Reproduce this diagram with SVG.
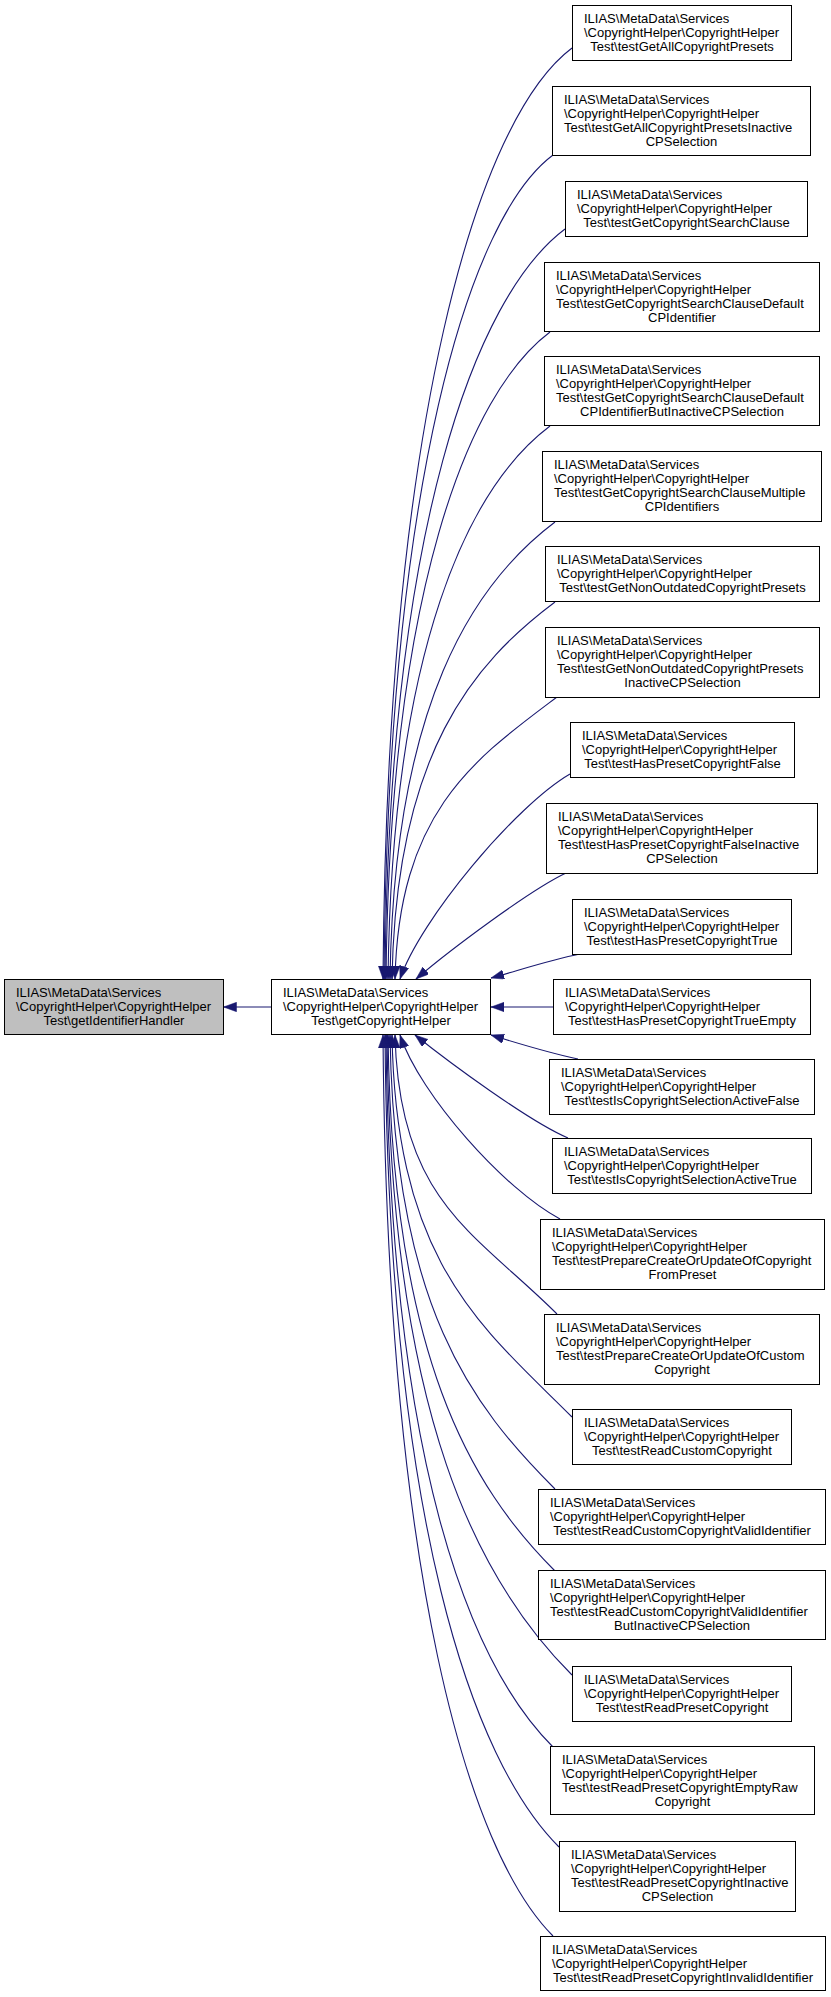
<svg xmlns="http://www.w3.org/2000/svg" width="831" height="1997" viewBox="0 0 831 1997">
<style>
.node rect{fill:#ffffff;stroke:#000000;stroke-width:1}
.node.hl rect{fill:#bfbfbf}
text{font-family:"Liberation Sans",Arial,Helvetica,sans-serif;font-size:13px;fill:#000000}
text.c{text-anchor:middle}
.edges path{fill:none;stroke:#191970;stroke-width:1.1}
</style>
<defs>
<marker id="ah" markerUnits="userSpaceOnUse" markerWidth="14" markerHeight="10" refX="13" refY="4.7" orient="auto">
<path d="M0,0 L13,4.7 L0,9.4 Z" fill="#191970" stroke="#191970" stroke-width="0.5"/>
</marker>
</defs>
<rect x="0" y="0" width="831" height="1997" fill="#ffffff"/>
<g class="edges">
<path d="M271.5,1007 L223.5,1007" marker-end="url(#ah)"/>
<path d="M572,48 C477.5,119 387,420 383,979" marker-end="url(#ah)"/>
<path d="M553,155 C468.5,218 388,485 384,979" marker-end="url(#ah)"/>
<path d="M565,229 C475,296.5 389,529 385,979" marker-end="url(#ah)"/>
<path d="M550,332 C468,393.5 390,591 386,979" marker-end="url(#ah)"/>
<path d="M550,426 C469,487 392,647 388,979" marker-end="url(#ah)"/>
<path d="M555,522 C472.5,584 394,705 390,979" marker-end="url(#ah)"/>
<path d="M555,602 C473.5,663 396,753 392,979" marker-end="url(#ah)"/>
<path d="M557,697 C476,758 399,810 395,979" marker-end="url(#ah)"/>
<path d="M570,774 C515,806 420,920 400,979" marker-end="url(#ah)"/>
<path d="M566,873 C530,890 450,950 416,979" marker-end="url(#ah)"/>
<path d="M580,954 C550,960 520,970 491,978" marker-end="url(#ah)"/>
<path d="M553,1007 L491,1007" marker-end="url(#ah)"/>
<path d="M578,1059 C550,1053 520,1044 491,1035" marker-end="url(#ah)"/>
<path d="M568,1138 C530,1122 450,1063 415,1035" marker-end="url(#ah)"/>
<path d="M560,1219 C505,1190 420,1095 400,1035" marker-end="url(#ah)"/>
<path d="M557,1314 C476,1233 399,1202 395,1035" marker-end="url(#ah)"/>
<path d="M572,1417 C482,1327 396,1264 392,1035" marker-end="url(#ah)"/>
<path d="M555,1489 C472.5,1406.5 394,1307 390,1035" marker-end="url(#ah)"/>
<path d="M555,1571 C471.5,1487.5 392,1357 388,1035" marker-end="url(#ah)"/>
<path d="M572,1675 C479.5,1582.5 391,1419 387,1035" marker-end="url(#ah)"/>
<path d="M553,1747 C469.5,1663.5 390,1462 386,1035" marker-end="url(#ah)"/>
<path d="M559,1847 C472,1760 389,1522 385,1035" marker-end="url(#ah)"/>
<path d="M553,1936 C468,1851 387,1576 383,1035" marker-end="url(#ah)"/>
</g>
<g id="nodeL" class="node hl">
<rect x="4.5" y="979.5" width="219" height="55"/>
<text x="16" y="996.5">ILIAS\MetaData\Services</text>
<text x="16" y="1010.8">\CopyrightHelper\CopyrightHelper</text>
<text class="c" x="114" y="1025.1">Test\getIdentifierHandler</text>
</g>
<g id="nodeM" class="node">
<rect x="271.5" y="979.5" width="219" height="55"/>
<text x="283" y="996.5">ILIAS\MetaData\Services</text>
<text x="283" y="1010.8">\CopyrightHelper\CopyrightHelper</text>
<text class="c" x="381" y="1025.1">Test\getCopyrightHelper</text>
</g>
<g id="node1" class="node">
<rect x="572.5" y="5.5" width="219" height="55"/>
<text x="584" y="22.5">ILIAS\MetaData\Services</text>
<text x="584" y="36.8">\CopyrightHelper\CopyrightHelper</text>
<text class="c" x="682" y="51.1">Test\testGetAllCopyrightPresets</text>
</g>
<g id="node2" class="node">
<rect x="552.5" y="86.5" width="258" height="69"/>
<text x="564" y="103.5">ILIAS\MetaData\Services</text>
<text x="564" y="117.8">\CopyrightHelper\CopyrightHelper</text>
<text x="564" y="132.1">Test\testGetAllCopyrightPresetsInactive</text>
<text class="c" x="681.5" y="146.4">CPSelection</text>
</g>
<g id="node3" class="node">
<rect x="565.5" y="181.5" width="242" height="55"/>
<text x="577" y="198.5">ILIAS\MetaData\Services</text>
<text x="577" y="212.8">\CopyrightHelper\CopyrightHelper</text>
<text class="c" x="686.5" y="227.1">Test\testGetCopyrightSearchClause</text>
</g>
<g id="node4" class="node">
<rect x="544.5" y="262.5" width="275" height="69"/>
<text x="556" y="279.5">ILIAS\MetaData\Services</text>
<text x="556" y="293.8">\CopyrightHelper\CopyrightHelper</text>
<text x="556" y="308.1">Test\testGetCopyrightSearchClauseDefault</text>
<text class="c" x="682" y="322.4">CPIdentifier</text>
</g>
<g id="node5" class="node">
<rect x="544.5" y="356.5" width="275" height="69"/>
<text x="556" y="373.5">ILIAS\MetaData\Services</text>
<text x="556" y="387.8">\CopyrightHelper\CopyrightHelper</text>
<text x="556" y="402.1">Test\testGetCopyrightSearchClauseDefault</text>
<text class="c" x="682" y="416.4">CPIdentifierButInactiveCPSelection</text>
</g>
<g id="node6" class="node">
<rect x="542.5" y="451.5" width="279" height="70"/>
<text x="554" y="468.5">ILIAS\MetaData\Services</text>
<text x="554" y="482.8">\CopyrightHelper\CopyrightHelper</text>
<text x="554" y="497.1">Test\testGetCopyrightSearchClauseMultiple</text>
<text class="c" x="682" y="511.4">CPIdentifiers</text>
</g>
<g id="node7" class="node">
<rect x="545.5" y="546.5" width="274" height="55"/>
<text x="557" y="563.5">ILIAS\MetaData\Services</text>
<text x="557" y="577.8">\CopyrightHelper\CopyrightHelper</text>
<text class="c" x="682.5" y="592.1">Test\testGetNonOutdatedCopyrightPresets</text>
</g>
<g id="node8" class="node">
<rect x="545.5" y="627.5" width="274" height="70"/>
<text x="557" y="644.5">ILIAS\MetaData\Services</text>
<text x="557" y="658.8">\CopyrightHelper\CopyrightHelper</text>
<text x="557" y="673.1">Test\testGetNonOutdatedCopyrightPresets</text>
<text class="c" x="682.5" y="687.4">InactiveCPSelection</text>
</g>
<g id="node9" class="node">
<rect x="570.5" y="722.5" width="224" height="55"/>
<text x="582" y="739.5">ILIAS\MetaData\Services</text>
<text x="582" y="753.8">\CopyrightHelper\CopyrightHelper</text>
<text class="c" x="682.5" y="768.1">Test\testHasPresetCopyrightFalse</text>
</g>
<g id="node10" class="node">
<rect x="546.5" y="803.5" width="271" height="70"/>
<text x="558" y="820.5">ILIAS\MetaData\Services</text>
<text x="558" y="834.8">\CopyrightHelper\CopyrightHelper</text>
<text x="558" y="849.1">Test\testHasPresetCopyrightFalseInactive</text>
<text class="c" x="682" y="863.4">CPSelection</text>
</g>
<g id="node11" class="node">
<rect x="572.5" y="899.5" width="219" height="55"/>
<text x="584" y="916.5">ILIAS\MetaData\Services</text>
<text x="584" y="930.8">\CopyrightHelper\CopyrightHelper</text>
<text class="c" x="682" y="945.1">Test\testHasPresetCopyrightTrue</text>
</g>
<g id="node12" class="node">
<rect x="553.5" y="979.5" width="257" height="55"/>
<text x="565" y="996.5">ILIAS\MetaData\Services</text>
<text x="565" y="1010.8">\CopyrightHelper\CopyrightHelper</text>
<text class="c" x="682" y="1025.1">Test\testHasPresetCopyrightTrueEmpty</text>
</g>
<g id="node13" class="node">
<rect x="549.5" y="1059.5" width="265" height="55"/>
<text x="561" y="1076.5">ILIAS\MetaData\Services</text>
<text x="561" y="1090.8">\CopyrightHelper\CopyrightHelper</text>
<text class="c" x="682" y="1105.1">Test\testIsCopyrightSelectionActiveFalse</text>
</g>
<g id="node14" class="node">
<rect x="552.5" y="1138.5" width="259" height="55"/>
<text x="564" y="1155.5">ILIAS\MetaData\Services</text>
<text x="564" y="1169.8">\CopyrightHelper\CopyrightHelper</text>
<text class="c" x="682" y="1184.1">Test\testIsCopyrightSelectionActiveTrue</text>
</g>
<g id="node15" class="node">
<rect x="540.5" y="1219.5" width="284" height="70"/>
<text x="552" y="1236.5">ILIAS\MetaData\Services</text>
<text x="552" y="1250.8">\CopyrightHelper\CopyrightHelper</text>
<text x="552" y="1265.1">Test\testPrepareCreateOrUpdateOfCopyright</text>
<text class="c" x="682.5" y="1279.4">FromPreset</text>
</g>
<g id="node16" class="node">
<rect x="544.5" y="1314.5" width="275" height="70"/>
<text x="556" y="1331.5">ILIAS\MetaData\Services</text>
<text x="556" y="1345.8">\CopyrightHelper\CopyrightHelper</text>
<text x="556" y="1360.1">Test\testPrepareCreateOrUpdateOfCustom</text>
<text class="c" x="682" y="1374.4">Copyright</text>
</g>
<g id="node17" class="node">
<rect x="572.5" y="1409.5" width="219" height="55"/>
<text x="584" y="1426.5">ILIAS\MetaData\Services</text>
<text x="584" y="1440.8">\CopyrightHelper\CopyrightHelper</text>
<text class="c" x="682" y="1455.1">Test\testReadCustomCopyright</text>
</g>
<g id="node18" class="node">
<rect x="538.5" y="1489.5" width="287" height="55"/>
<text x="550" y="1506.5">ILIAS\MetaData\Services</text>
<text x="550" y="1520.8">\CopyrightHelper\CopyrightHelper</text>
<text class="c" x="682" y="1535.1">Test\testReadCustomCopyrightValidIdentifier</text>
</g>
<g id="node19" class="node">
<rect x="538.5" y="1570.5" width="287" height="69"/>
<text x="550" y="1587.5">ILIAS\MetaData\Services</text>
<text x="550" y="1601.8">\CopyrightHelper\CopyrightHelper</text>
<text x="550" y="1616.1">Test\testReadCustomCopyrightValidIdentifier</text>
<text class="c" x="682" y="1630.4">ButInactiveCPSelection</text>
</g>
<g id="node20" class="node">
<rect x="572.5" y="1666.5" width="219" height="55"/>
<text x="584" y="1683.5">ILIAS\MetaData\Services</text>
<text x="584" y="1697.8">\CopyrightHelper\CopyrightHelper</text>
<text class="c" x="682" y="1712.1">Test\testReadPresetCopyright</text>
</g>
<g id="node21" class="node">
<rect x="550.5" y="1746.5" width="264" height="68"/>
<text x="562" y="1763.5">ILIAS\MetaData\Services</text>
<text x="562" y="1777.8">\CopyrightHelper\CopyrightHelper</text>
<text x="562" y="1792.1">Test\testReadPresetCopyrightEmptyRaw</text>
<text class="c" x="682.5" y="1806.4">Copyright</text>
</g>
<g id="node22" class="node">
<rect x="559.5" y="1841.5" width="236" height="70"/>
<text x="571" y="1858.5">ILIAS\MetaData\Services</text>
<text x="571" y="1872.8">\CopyrightHelper\CopyrightHelper</text>
<text x="571" y="1887.1">Test\testReadPresetCopyrightInactive</text>
<text class="c" x="677.5" y="1901.4">CPSelection</text>
</g>
<g id="node23" class="node">
<rect x="540.5" y="1936.5" width="285" height="54"/>
<text x="552" y="1953.5">ILIAS\MetaData\Services</text>
<text x="552" y="1967.8">\CopyrightHelper\CopyrightHelper</text>
<text class="c" x="683" y="1982.1">Test\testReadPresetCopyrightInvalidIdentifier</text>
</g>
</svg>
